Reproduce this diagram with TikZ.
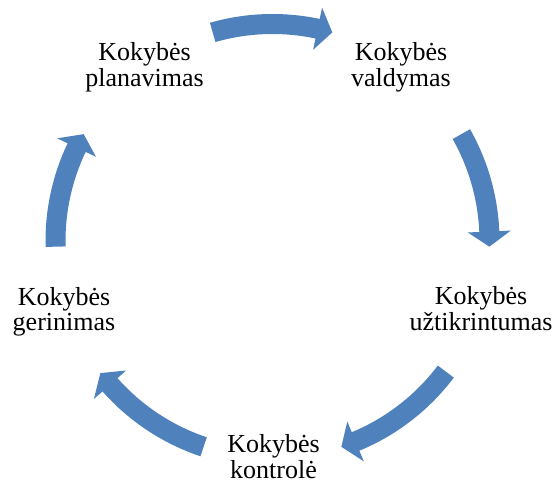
\documentclass[tikz,border=0pt]{standalone}
\usepackage{fontspec}
\setmainfont{Liberation Serif}
\definecolor{arrowblue}{RGB}{79,129,189}
\tikzset{
  lbl/.style={anchor=base, inner sep=0pt, font=\fontsize{26}{25}\selectfont},
  cyc/.style={fill=arrowblue, draw=none}
}
\newcommand{\cycarrow}[3]{%
  \fill[cyc] (#1:227) arc[start angle=#1, end angle=#2, radius=227]
    -- (#2:238.5) -- (#3:217) -- (#2:195.5) -- (#2:207)
    arc[start angle=#2, end angle=#1, radius=207] -- cycle;}
\begin{document}
\begin{tikzpicture}[x=1pt,y=1pt]
\useasboundingbox (0,0) rectangle (554,487);
\fill[white] (0,0) rectangle (554,487);
\coordinate (c) at (272.5,246);
\node[lbl] (plan)  at (144.5,426) {\begin{tabular}[t]{@{}c@{}}Kokybės\\planavimas\end{tabular}};
\node[lbl] (vald)  at (401,426)   {\begin{tabular}[t]{@{}c@{}}Kokybės\\valdymas\end{tabular}};
\node[lbl] (uzt)   at (481,182)   {\begin{tabular}[t]{@{}c@{}}Kokybės\\užtikrintumas\end{tabular}};
\node[lbl] (kontr) at (273.5,34)  {\begin{tabular}[t]{@{}c@{}}Kokybės\\kontrolė\end{tabular}};
\node[lbl] (ger)   at (64,181)    {\begin{tabular}[t]{@{}c@{}}Kokybės\\gerinimas\end{tabular}};
\begin{scope}[shift={(c)}]
  \cycarrow{106}{78}{74}
  \cycarrow{29.5}{2.5}{-1.5}
  \cycarrow{-37}{-67.5}{-71.5}
  \cycarrow{-108.5}{-138.5}{-142.5}
  \cycarrow{181.5}{154.5}{150.5}
\end{scope}
\end{tikzpicture}
\end{document}
